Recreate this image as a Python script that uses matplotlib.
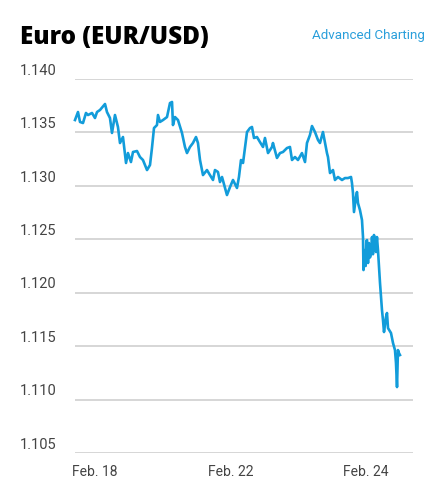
import matplotlib
matplotlib.use("Agg")
import matplotlib.pyplot as plt
from matplotlib.transforms import blended_transform_factory

# trading days from the Feb. 18 label (weekend removed)
days = [-0.295, -0.251, -0.221, -0.177, -0.133, -0.103, -0.044, 0.000, 0.030, 0.074,
        0.148, 0.177, 0.221, 0.251, 0.295, 0.339, 0.369, 0.413, 0.458, 0.487,
        0.531, 0.561, 0.620, 0.664, 0.708, 0.768, 0.812, 0.841, 0.871, 0.915,
        0.930, 0.959, 1.004, 1.063, 1.107, 1.137, 1.151, 1.181, 1.225, 1.284,
        1.328, 1.358, 1.402, 1.446, 1.491, 1.520, 1.550, 1.594, 1.653, 1.697,
        1.742, 1.771, 1.815, 1.845, 1.875, 1.919, 1.948, 1.993, 2.037, 2.096,
        2.125, 2.155, 2.185, 2.244, 2.288, 2.317, 2.347, 2.391, 2.435, 2.480,
        2.509, 2.554, 2.613, 2.627, 2.686, 2.731, 2.775, 2.834, 2.878, 2.908,
        2.952, 2.996, 3.055, 3.100, 3.129, 3.173, 3.203, 3.247, 3.292,
        3.321, 3.365, 3.424, 3.439, 3.469, 3.513, 3.542, 3.587, 3.646, 3.690,
        3.734, 3.779, 3.793, 3.808, 3.823, 3.852, 3.867, 3.882, 3.911, 3.941,
        3.956, 3.963, 3.985, 3.995, 4.005, 4.015, 4.030, 4.044, 4.059, 4.074,
        4.089, 4.103, 4.118, 4.133, 4.148, 4.162, 4.177, 4.207, 4.236, 4.251,
        4.266, 4.295, 4.310, 4.325, 4.369, 4.399, 4.428, 4.443, 4.458, 4.472,
        4.487, 4.502]

rate = [1.13616, 1.13691, 1.13598, 1.13588, 1.13682, 1.13663, 1.13682, 1.13635, 1.13691, 1.13710,
        1.13766, 1.13691, 1.13635, 1.13495, 1.13663, 1.13551, 1.13401, 1.13457, 1.13214, 1.13307,
        1.13223, 1.13317, 1.13326, 1.13270, 1.13242, 1.13148, 1.13195, 1.13354, 1.13541, 1.13569,
        1.13663, 1.13598, 1.13616, 1.13644, 1.13775, 1.13785, 1.13569, 1.13644, 1.13616, 1.13495,
        1.13364, 1.13307, 1.13364, 1.13401, 1.13457, 1.13401, 1.13242, 1.13101, 1.13148, 1.13101,
        1.13055, 1.13148, 1.13130, 1.13036, 1.13083, 1.12980, 1.12914, 1.12989, 1.13055, 1.12980,
        1.13083, 1.13242, 1.13214, 1.13504, 1.13541, 1.13551, 1.13448, 1.13457, 1.13410, 1.13364,
        1.13448, 1.13307, 1.13364, 1.13401, 1.13261, 1.13307, 1.13317, 1.13354, 1.13364, 1.13242,
        1.13270, 1.13242, 1.13307, 1.13223, 1.13401, 1.13476, 1.13560, 1.13504, 1.13429,
        1.13401, 1.13504, 1.13307, 1.13270, 1.13120, 1.13148, 1.13055, 1.13083, 1.13055, 1.13073,
        1.13073, 1.13083, 1.13027, 1.12933, 1.12755, 1.12896, 1.12942, 1.12839, 1.12774, 1.12680,
        1.12521, 1.12212, 1.12399, 1.12250, 1.12480, 1.12493, 1.12278, 1.12465, 1.12330, 1.12371,
        1.12521, 1.12360, 1.12540, 1.12480, 1.12381, 1.12521, 1.12399, 1.12091, 1.11838, 1.11744,
        1.11632, 1.11772, 1.11810, 1.11669, 1.11623, 1.11529, 1.11463, 1.11342, 1.11117, 1.11463,
        1.11435, 1.11417]

tick_days = [0, 2, 4]
tick_labels = ["Feb. 18", "Feb. 22", "Feb. 24"]
y_ticks = [1.105, 1.110, 1.115, 1.120, 1.125, 1.130, 1.135, 1.140]

plt.rcParams["font.family"] = ["Roboto", "DejaVu Sans"]

fig = plt.figure(figsize=(4.46, 4.96), dpi=100)
ax = fig.add_axes([75 / 446, 43 / 496, 338 / 446, 374 / 496])

ax.plot(days, rate, color="#129cda", linewidth=1.9, solid_joinstyle="round", clip_on=False)

ax.set_xlim(-0.295, 4.694)
ax.set_ylim(1.105, 1.140)
label_tf = blended_transform_factory(fig.transFigure, ax.transData)
for v in y_ticks:
    ax.axhline(v, color="#d0d0d0", linewidth=1.2, zorder=0)
    ax.text(20 / 446, v + 0.00012, f"{v:.3f}", transform=label_tf,
            ha="left", va="bottom", fontsize=10.5, color="#444444")

ax.set_xticks(tick_days)
ax.set_xticklabels(tick_labels, fontsize=10, color="#444444")
ax.tick_params(axis="x", length=0, pad=9)
ax.set_yticks([])
for s in ax.spines.values():
    s.set_visible(False)

fig.text(20 / 446, 1 - 37 / 496, "Euro (EUR/USD)", fontsize=17.5, fontweight="heavy",
         ha="left", va="center", color="black", family=["Open Sans", "DejaVu Sans"])
fig.text(425 / 446, 1 - 36 / 496, "Advanced Charting", fontsize=9.6, ha="right", va="center",
         color="#2a9fdb")

fig.savefig("out.png", dpi=100)
